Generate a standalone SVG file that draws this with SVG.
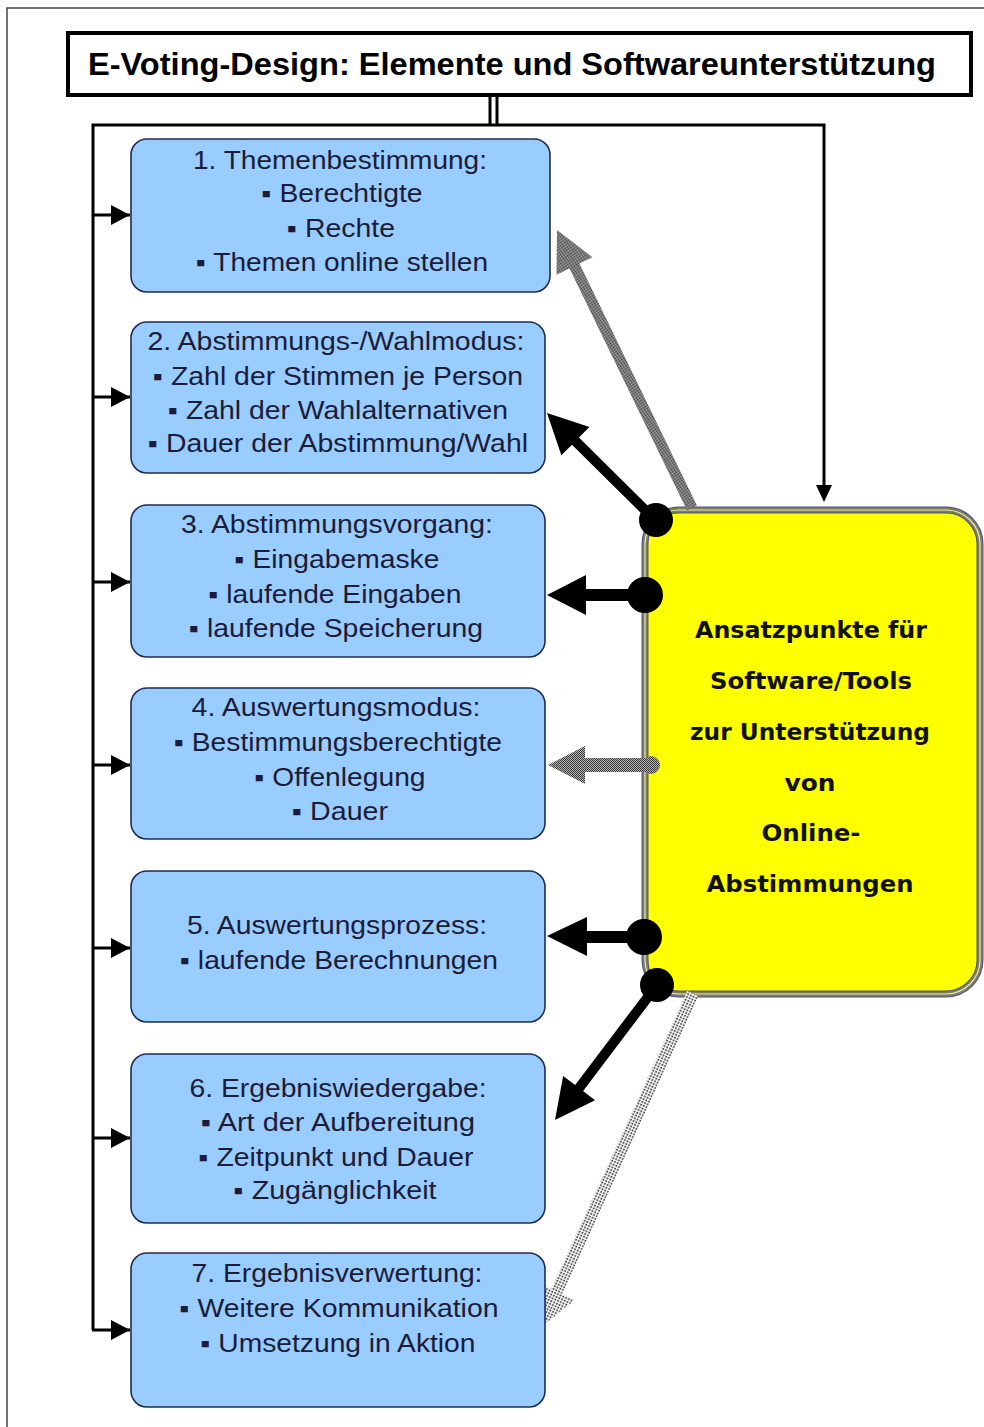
<svg xmlns="http://www.w3.org/2000/svg" width="984" height="1427" viewBox="0 0 984 1427">
<defs>
<style>
.box{fill:#99CCFF;stroke:#1f2b55;stroke-width:1.6}
.bt{font-family:"Liberation Sans",Arial,sans-serif;font-size:25px;fill:#1c1c38;text-anchor:middle}
.yt{font-family:"DejaVu Sans",Verdana,sans-serif;font-weight:bold;font-size:23px;fill:#111;text-anchor:middle}
.ln{stroke:#000;stroke-width:3;fill:none}
.blk{fill:#000}
.gry{fill:url(#dense)}
.spr{fill:url(#sparse)}
</style>
<pattern id="dense" width="2" height="2" patternUnits="userSpaceOnUse">
<rect width="2" height="2" fill="#b4b4b4"/>
<rect width="1" height="1" fill="#3a3a3a"/>
<rect x="1" y="1" width="1" height="1" fill="#3a3a3a"/>
</pattern>
<pattern id="sparse" width="3" height="3" patternUnits="userSpaceOnUse">
<rect width="3" height="3" fill="#ffffff"/>
<rect width="1.7" height="1.7" fill="#333"/>
</pattern>
<marker id="ah" markerWidth="20" markerHeight="20" refX="19" refY="10" orient="auto" markerUnits="userSpaceOnUse">
<path d="M0,0 L19,10 L0,20 Z" fill="#000"/>
</marker>
</defs>
<rect width="984" height="1427" fill="#fff"/>
<rect x="7" y="8" width="1000" height="1440" fill="none" stroke="#444" stroke-width="1.5"/>

<g id="node-ansatz">
<rect x="645" y="510" width="335" height="484" rx="34" fill="#FFFF00" stroke="#5050a0" stroke-width="7"/>
<rect x="645" y="510" width="335" height="484" rx="34" fill="none" stroke="#7f7f52" stroke-width="5"/>
<rect x="645" y="510" width="335" height="484" rx="34" fill="none" stroke="#e6e6c0" stroke-width="1.2"/>
<text class="yt" x="811" y="638" textLength="232" lengthAdjust="spacingAndGlyphs">Ansatzpunkte für</text>
<text class="yt" x="811" y="689" textLength="202" lengthAdjust="spacingAndGlyphs">Software/Tools</text>
<text class="yt" x="810" y="740" textLength="240" lengthAdjust="spacingAndGlyphs">zur Unterstützung</text>
<text class="yt" x="810" y="791" textLength="51" lengthAdjust="spacingAndGlyphs">von</text>
<text class="yt" x="811" y="841" textLength="99" lengthAdjust="spacingAndGlyphs">Online-</text>
<text class="yt" x="810" y="892" textLength="207" lengthAdjust="spacingAndGlyphs">Abstimmungen</text>
</g>

<g id="connectors">
<line class="ln" x1="490" y1="95" x2="490" y2="125" stroke-width="2.5"/>
<line class="ln" x1="497" y1="95" x2="497" y2="125" stroke-width="2.5"/>
<polyline class="ln" points="93,1330 93,125 824,125 824,488"/>
<path d="M816,485 L832,485 L824,502 Z" fill="#000"/>
<line class="ln" x1="93" y1="215" x2="130" y2="215" marker-end="url(#ah)"/>
<line class="ln" x1="93" y1="397" x2="130" y2="397" marker-end="url(#ah)"/>
<line class="ln" x1="93" y1="582" x2="130" y2="582" marker-end="url(#ah)"/>
<line class="ln" x1="93" y1="765" x2="130" y2="765" marker-end="url(#ah)"/>
<line class="ln" x1="93" y1="948" x2="130" y2="948" marker-end="url(#ah)"/>
<line class="ln" x1="93" y1="1138" x2="130" y2="1138" marker-end="url(#ah)"/>
<line class="ln" x1="92" y1="1330" x2="130" y2="1330" marker-end="url(#ah)"/>
<polygon class="gry" transform="translate(557,230) rotate(-115.9)" points="0,0 -40,-20 -40,-5.5 -309,-5.5 -309,5.5 -40,5.5 -40,20"/>
<polygon class="blk" transform="translate(547,413) rotate(-135.3)" points="0,0 -40,-20 -40,-5 -152,-5 -152,5 -40,5 -40,20"/>
<circle cx="656" cy="520" r="17" fill="#000"/>
<polygon class="blk" points="547,595 586,575 586,589 645,589 645,601 586,601 586,615"/>
<circle cx="645" cy="595" r="18" fill="#000"/>
<polygon class="gry" points="548,765 585,746 585,758 650,758 650,772 585,772 585,784"/>
<circle cx="651" cy="765" r="9" fill="url(#dense)"/>
<polygon class="blk" points="547,936 587,917 587,931 643,931 643,943 587,943 587,956"/>
<circle cx="644" cy="937" r="18" fill="#000"/>
<polygon class="blk" transform="translate(555,1120) rotate(127.07)" points="0,0 -40,-20 -40,-5 -169,-5 -169,5 -40,5 -40,20"/>
<circle cx="657" cy="985" r="17" fill="#000"/>
<polygon class="spr" transform="translate(540,1328) rotate(114.54)" points="0,0 -40,-20 -40,-6 -368,-6 -368,6 -40,6 -40,20"/>
</g>

<g id="node-1">
<rect class="box" x="131" y="139" width="419" height="153" rx="16"/>
<text class="bt" x="340" y="169" textLength="294" lengthAdjust="spacingAndGlyphs">1. Themenbestimmung:</text>
<text class="bt" x="342" y="202" textLength="161" lengthAdjust="spacingAndGlyphs">▪ Berechtigte</text>
<text class="bt" x="341" y="237" textLength="108" lengthAdjust="spacingAndGlyphs">▪ Rechte</text>
<text class="bt" x="342" y="271" textLength="292" lengthAdjust="spacingAndGlyphs">▪ Themen online stellen</text>
</g>
<g id="node-2">
<rect class="box" x="131" y="322" width="414" height="151" rx="16"/>
<text class="bt" x="336" y="350" textLength="377" lengthAdjust="spacingAndGlyphs">2. Abstimmungs-/Wahlmodus:</text>
<text class="bt" x="338" y="385" textLength="370" lengthAdjust="spacingAndGlyphs">▪ Zahl der Stimmen je Person</text>
<text class="bt" x="338" y="419" textLength="340" lengthAdjust="spacingAndGlyphs">▪ Zahl der Wahlalternativen</text>
<text class="bt" x="338" y="452" textLength="380" lengthAdjust="spacingAndGlyphs">▪ Dauer der Abstimmung/Wahl</text>
</g>
<g id="node-3">
<rect class="box" x="131" y="505" width="414" height="152" rx="16"/>
<text class="bt" x="337" y="533" textLength="312" lengthAdjust="spacingAndGlyphs">3. Abstimmungsvorgang:</text>
<text class="bt" x="337" y="568" textLength="205" lengthAdjust="spacingAndGlyphs">▪ Eingabemaske</text>
<text class="bt" x="335" y="603" textLength="253" lengthAdjust="spacingAndGlyphs">▪ laufende Eingaben</text>
<text class="bt" x="336" y="637" textLength="294" lengthAdjust="spacingAndGlyphs">▪ laufende Speicherung</text>
</g>
<g id="node-4">
<rect class="box" x="131" y="688" width="414" height="151" rx="16"/>
<text class="bt" x="336" y="716" textLength="289" lengthAdjust="spacingAndGlyphs">4. Auswertungsmodus:</text>
<text class="bt" x="338" y="751" textLength="328" lengthAdjust="spacingAndGlyphs">▪ Bestimmungsberechtigte</text>
<text class="bt" x="340" y="786" textLength="171" lengthAdjust="spacingAndGlyphs">▪ Offenlegung</text>
<text class="bt" x="340" y="820" textLength="96" lengthAdjust="spacingAndGlyphs">▪ Dauer</text>
</g>
<g id="node-5">
<rect class="box" x="131" y="871" width="414" height="151" rx="16"/>
<text class="bt" x="337" y="934" textLength="300" lengthAdjust="spacingAndGlyphs">5. Auswertungsprozess:</text>
<text class="bt" x="339" y="969" textLength="318" lengthAdjust="spacingAndGlyphs">▪ laufende Berechnungen</text>
</g>
<g id="node-6">
<rect class="box" x="131" y="1054" width="414" height="169" rx="16"/>
<text class="bt" x="338" y="1097" textLength="297" lengthAdjust="spacingAndGlyphs">6. Ergebniswiedergabe:</text>
<text class="bt" x="338" y="1131" textLength="274" lengthAdjust="spacingAndGlyphs">▪ Art der Aufbereitung</text>
<text class="bt" x="336" y="1166" textLength="275" lengthAdjust="spacingAndGlyphs">▪ Zeitpunkt und Dauer</text>
<text class="bt" x="335" y="1199" textLength="203" lengthAdjust="spacingAndGlyphs">▪ Zugänglichkeit</text>
</g>
<g id="node-7">
<rect class="box" x="131" y="1253" width="414" height="154" rx="16"/>
<text class="bt" x="337" y="1282" textLength="291" lengthAdjust="spacingAndGlyphs">7. Ergebnisverwertung:</text>
<text class="bt" x="339" y="1317" textLength="319" lengthAdjust="spacingAndGlyphs">▪ Weitere Kommunikation</text>
<text class="bt" x="338" y="1352" textLength="275" lengthAdjust="spacingAndGlyphs">▪ Umsetzung in Aktion</text>
</g>

<g id="node-title">
<rect x="68" y="33" width="903" height="62" fill="#fff" stroke="#000" stroke-width="4"/>
<text x="88" y="75" font-family="'Liberation Sans',Arial,sans-serif" font-weight="bold" font-size="32" fill="#000" textLength="848" lengthAdjust="spacingAndGlyphs">E-Voting-Design: Elemente und Softwareunterstützung</text>
</g>
</svg>
